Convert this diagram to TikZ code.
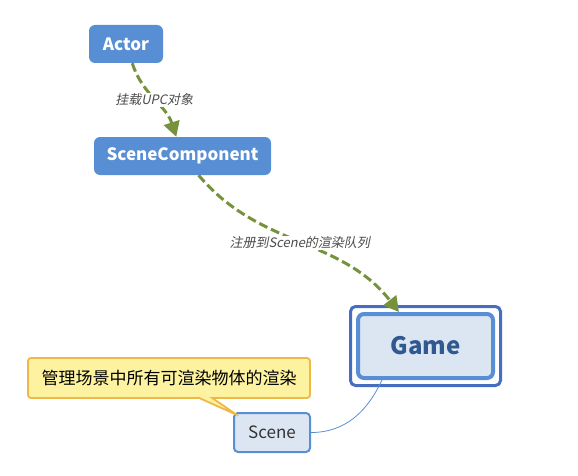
\documentclass[tikz,border=0pt]{standalone}
\usepackage{fontspec}
\setmainfont{Noto Sans CJK SC}
\newfontfamily\slantfont{Noto Sans CJK SC}[FakeSlant=0.2]
\usetikzlibrary{arrows.meta,shapes.callouts,fit,calc}
\definecolor{topicblue}{RGB}{88,142,212}
\definecolor{frameblue}{RGB}{70,110,192}
\definecolor{paleblue}{RGB}{220,230,242}
\definecolor{gametext}{RGB}{48,88,145}
\definecolor{linkgreen}{RGB}{118,146,60}
\definecolor{noteyellow}{RGB}{252,242,160}
\definecolor{noteorange}{RGB}{240,184,72}
\begin{document}
\begin{tikzpicture}[x=1pt,y=1pt]
		\tikzstyle{topic}=[fill=topicblue,text=white,rounded corners=6pt,minimum height=38pt,font=\bfseries\fontsize{17}{20}\selectfont]
		\tikzstyle{main-topic}=[draw=topicblue,fill=paleblue,line width=4pt,rounded corners=6pt,minimum width=135pt,minimum height=64pt,text=gametext,font=\bfseries\fontsize{24}{28}\selectfont]
		\tikzstyle{main-frame}=[draw=frameblue,line width=3pt,rounded corners=5pt,inner sep=5.5pt]
		\tikzstyle{sub-topic}=[draw=topicblue,fill=paleblue,line width=2pt,rounded corners=4pt,minimum width=76pt,minimum height=39pt,text=black!80,font=\fontsize{17}{20}\selectfont]
		\tikzstyle{note}=[rectangle callout,draw=noteorange,fill=noteyellow,line width=1.8pt,rounded corners=3pt,minimum width=282pt,minimum height=40pt,callout pointer width=13pt,font=\fontsize{17}{20}\selectfont]
		\tikzstyle{attach}=[-{Triangle[length=15pt,width=16pt]},linkgreen,line width=3pt,dash pattern=on 9pt off 4pt]
		\tikzstyle{link-label}=[fill=white,inner sep=1pt,text=black!70,font=\slantfont\fontsize{13}{15}\selectfont]
		\tikzstyle{relation}=[topicblue,line width=0.8pt]
		\useasboundingbox (0,0) rectangle (578,475);
		% topics
		\node [topic,minimum width=74pt] at (126,431) (actor) {Actor};
		\node [topic,minimum width=177pt] at (182.5,319) (comp) {SceneComponent};
		\node [main-topic] at (425.5,129) (game) {Game};
		\node [main-frame,fit=(game)] (frame) {};
		\node [sub-topic] at (272,42.5) (scene) {Scene};
		% note
		\node [note,callout absolute pointer={($(scene.north west)+(4,-3)$)}] at (169,97) (info) {管理场景中所有可渲染物体的渲染};
		% links
		\draw [attach] (actor) to[out=-72,in=108] node[link-label] {挂载UPC对象} (comp);
		\draw [attach] (comp) to[out=-50,in=128] node[link-label] {注册到Scene的渲染队列} (game);
		\draw [relation] (game.-142) to[out=-115,in=0] (scene.east);
	\end{tikzpicture}
\end{document}
